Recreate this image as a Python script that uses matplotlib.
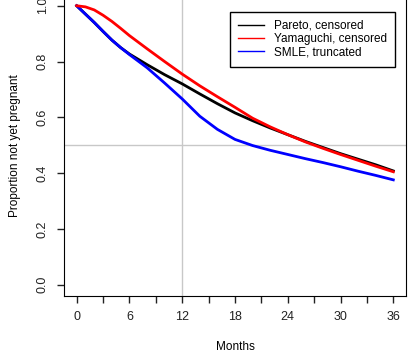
import numpy as np
import matplotlib
matplotlib.use("Agg")
import matplotlib.pyplot as plt

plt.rcParams['font.family'] = ['Liberation Sans', 'DejaVu Sans']

# survival curves, proportion not yet pregnant by month
months = [0, 1, 2, 3, 4, 5, 6, 8, 10, 12, 14, 16, 18, 20, 22, 24, 26, 28, 30, 32, 34, 36]
pareto = [1.000, 0.970, 0.940, 0.908, 0.877, 0.850, 0.827, 0.789, 0.753, 0.720, 0.684,
          0.649, 0.616, 0.588, 0.562, 0.538, 0.514, 0.492, 0.470, 0.450, 0.430, 0.408]
yamaguchi = [1.000, 0.996, 0.985, 0.966, 0.944, 0.919, 0.893, 0.846, 0.800, 0.755, 0.713,
             0.674, 0.636, 0.597, 0.566, 0.538, 0.512, 0.489, 0.467, 0.446, 0.425, 0.405]
smle = [1.000, 0.970, 0.940, 0.908, 0.877, 0.850, 0.825, 0.778, 0.723, 0.666, 0.604,
        0.557, 0.521, 0.499, 0.482, 0.467, 0.452, 0.438, 0.423, 0.407, 0.392, 0.376]

x_ticks = np.arange(0, 37, 3)
x_labels = [str(t) if t % 6 == 0 else "" for t in x_ticks]
y_ticks = [0.0, 0.2, 0.4, 0.6, 0.8, 1.0]

fig = plt.figure(figsize=(4.13, 3.6), dpi=100)
ax = fig.add_axes([0.155, 0.178, 0.828, 0.837])

ax.axhline(0.5, color="#c8c8c8", lw=1, zorder=1)
ax.axvline(12, color="#c8c8c8", lw=1, zorder=1)

ax.plot(months, pareto, color="black", lw=2, label="Pareto, censored", zorder=3)
ax.plot(months, yamaguchi, color="red", lw=2, label="Yamaguchi, censored", zorder=4)
ax.plot(months, smle, color="blue", lw=2, label="SMLE, truncated", zorder=3)

ax.set_xlim(-1.44, 37.44)
ax.set_ylim(-0.04, 1.04)
ax.set_xticks(x_ticks)
ax.set_xticklabels(x_labels)
ax.set_yticks(y_ticks)
ax.set_yticklabels([f"{v:.1f}" for v in y_ticks], rotation=90, va="center")
ax.tick_params(direction="out", length=5, width=1, labelsize=9, pad=6, colors="#222222")

ax.set_xlabel("Months", fontsize=8.5, labelpad=13)
ax.set_ylabel("Proportion not yet pregnant", fontsize=8.5, labelpad=11)

leg = ax.legend(loc="upper right", bbox_to_anchor=(0.985, 0.963), fontsize=8.5,
                frameon=True, fancybox=False, edgecolor="black", framealpha=1,
                handlelength=2.2, handletextpad=0.8, borderpad=0.7, labelspacing=0.1)
leg.get_frame().set_linewidth(1)
for line in leg.get_lines():
    line.set_linewidth(1)

fig.savefig("out.png", dpi=100)
